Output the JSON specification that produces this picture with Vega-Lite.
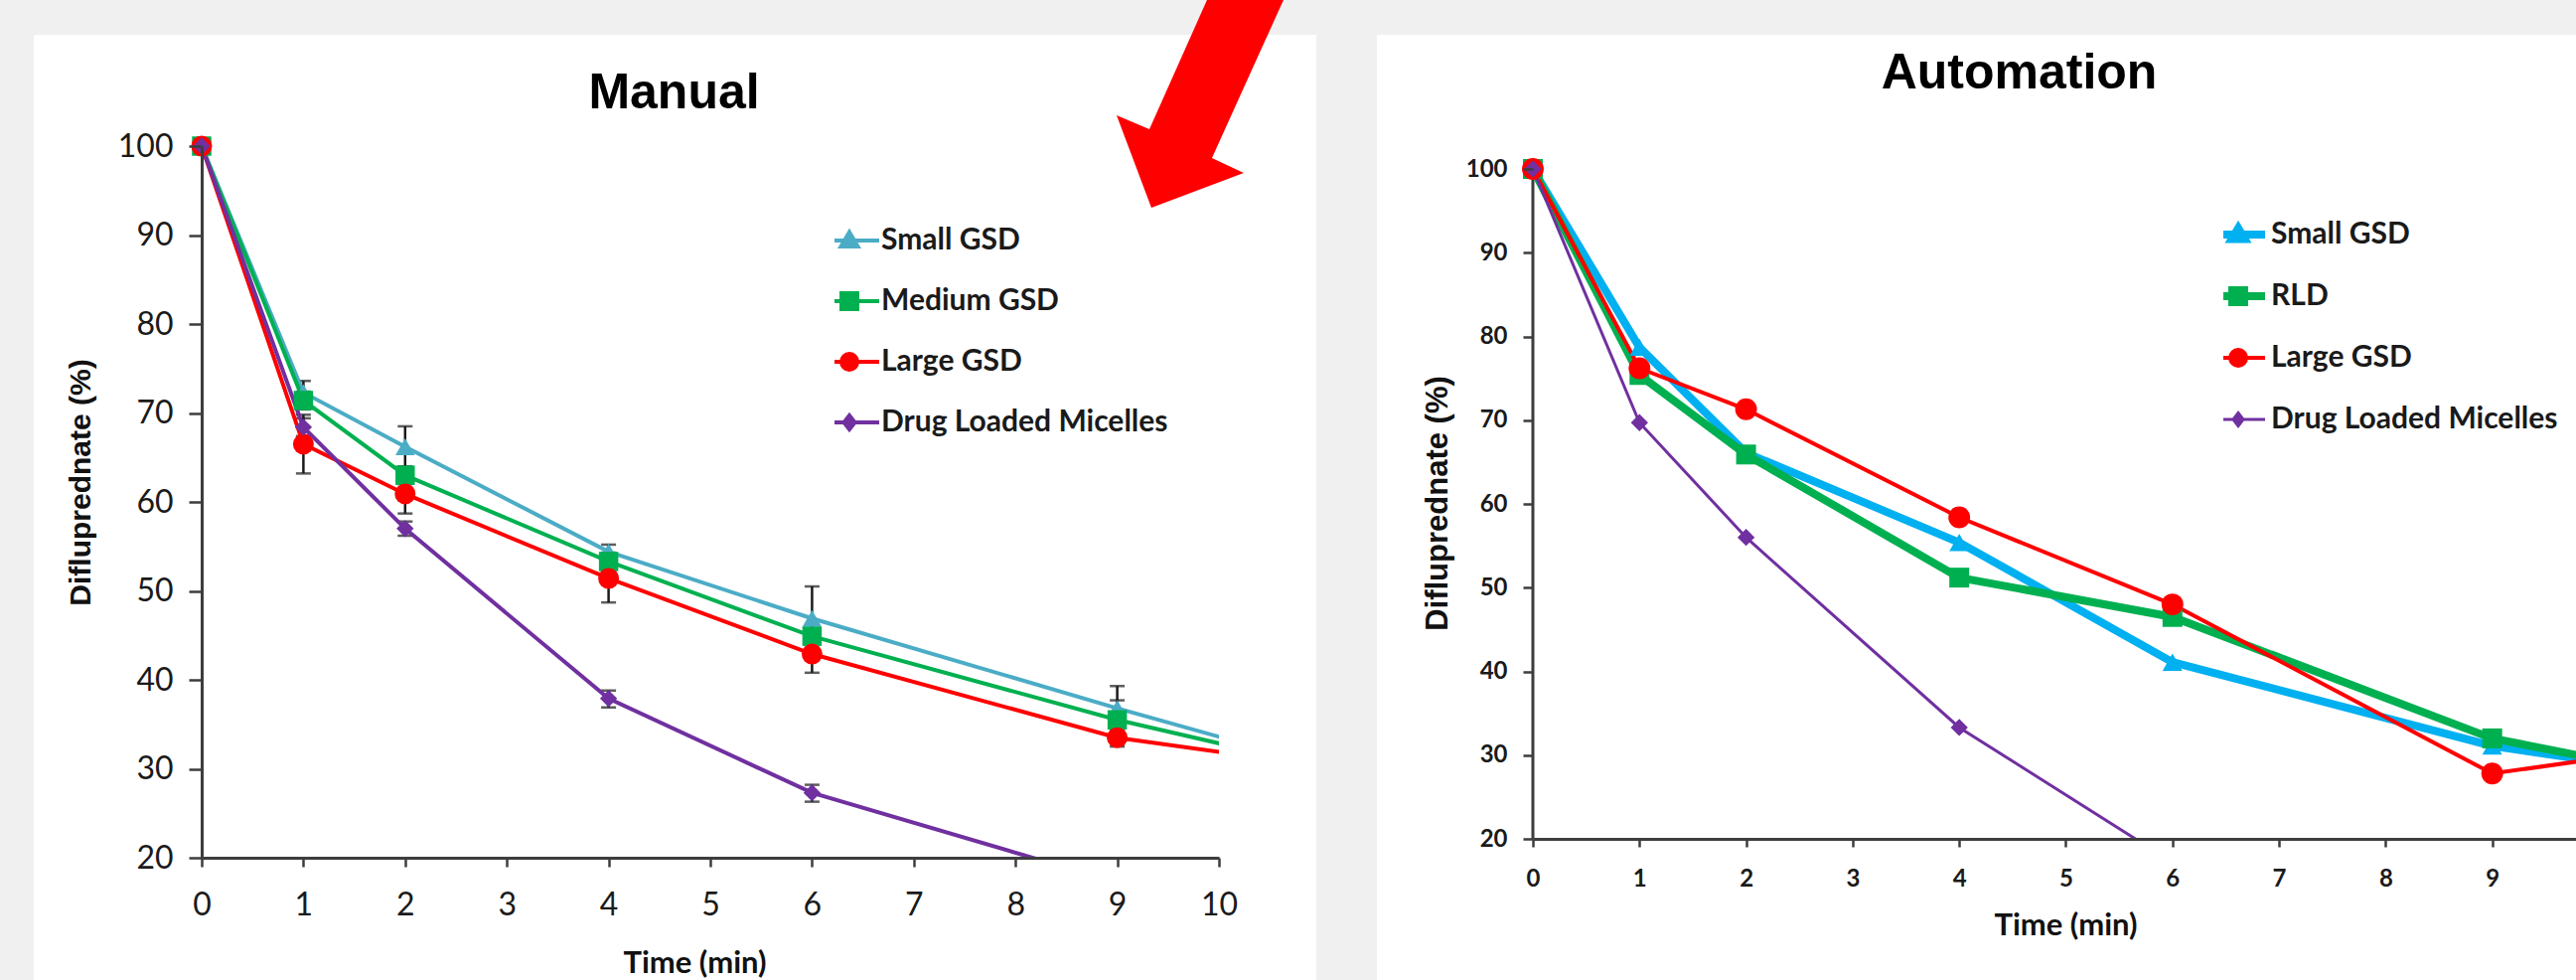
{
  "$schema": "https://vega.github.io/schema/vega-lite/v6.json",
  "background": "#f0f0f0",
  "padding": {"left": 34, "top": 0, "right": 0, "bottom": 0},
  "spacing": 61,
  "datasets": {
    "manual": [
      {"series": "Small GSD", "time": 0, "value": 100},
      {"series": "Small GSD", "time": 1, "value": 72.3, "lo": 71.0, "hi": 73.6},
      {"series": "Small GSD", "time": 2, "value": 66.2, "lo": 63.9, "hi": 68.5},
      {"series": "Small GSD", "time": 4, "value": 54.4, "lo": 53.6, "hi": 55.2},
      {"series": "Small GSD", "time": 6, "value": 46.9, "lo": 43.3, "hi": 50.5},
      {"series": "Small GSD", "time": 9, "value": 36.8, "lo": 34.3, "hi": 39.3},
      {"series": "Small GSD", "time": 12, "value": 27.2},
      {"series": "Medium GSD", "time": 0, "value": 100},
      {"series": "Medium GSD", "time": 1, "value": 71.4, "lo": 70.4, "hi": 72.4},
      {"series": "Medium GSD", "time": 2, "value": 63.0, "lo": 62.0, "hi": 64.0},
      {"series": "Medium GSD", "time": 4, "value": 53.3, "lo": 52.3, "hi": 54.3},
      {"series": "Medium GSD", "time": 6, "value": 44.9, "lo": 43.6, "hi": 46.2},
      {"series": "Medium GSD", "time": 9, "value": 35.5, "lo": 33.3, "hi": 37.7},
      {"series": "Medium GSD", "time": 12, "value": 27.6},
      {"series": "Large GSD", "time": 0, "value": 100},
      {"series": "Large GSD", "time": 1, "value": 66.5, "lo": 63.2, "hi": 69.8},
      {"series": "Large GSD", "time": 2, "value": 60.9, "lo": 58.7, "hi": 63.1},
      {"series": "Large GSD", "time": 4, "value": 51.4, "lo": 48.7, "hi": 54.1},
      {"series": "Large GSD", "time": 6, "value": 42.9, "lo": 40.8, "hi": 45.0},
      {"series": "Large GSD", "time": 9, "value": 33.5, "lo": 32.5, "hi": 34.5},
      {"series": "Large GSD", "time": 12, "value": 28.7},
      {"series": "Drug Loaded Micelles", "time": 0, "value": 100},
      {"series": "Drug Loaded Micelles", "time": 1, "value": 68.4, "lo": 67.4, "hi": 69.4},
      {"series": "Drug Loaded Micelles", "time": 2, "value": 57.0, "lo": 56.2, "hi": 57.8},
      {"series": "Drug Loaded Micelles", "time": 4, "value": 37.9, "lo": 36.9, "hi": 38.8},
      {"series": "Drug Loaded Micelles", "time": 6, "value": 27.3, "lo": 26.3, "hi": 28.2},
      {"series": "Drug Loaded Micelles", "time": 9, "value": 17.2}
    ],
    "auto": [
      {"series": "Small GSD", "time": 0, "value": 100},
      {"series": "Small GSD", "time": 1, "value": 78.7},
      {"series": "Small GSD", "time": 2, "value": 66.1},
      {"series": "Small GSD", "time": 4, "value": 55.4},
      {"series": "Small GSD", "time": 6, "value": 41.1},
      {"series": "Small GSD", "time": 9, "value": 31.1},
      {"series": "Small GSD", "time": 10, "value": 29.2},
      {"series": "RLD", "time": 0, "value": 100},
      {"series": "RLD", "time": 1, "value": 75.4},
      {"series": "RLD", "time": 2, "value": 65.9},
      {"series": "RLD", "time": 4, "value": 51.2},
      {"series": "RLD", "time": 6, "value": 46.5},
      {"series": "RLD", "time": 9, "value": 32.0},
      {"series": "RLD", "time": 10, "value": 29.5},
      {"series": "Large GSD", "time": 0, "value": 100},
      {"series": "Large GSD", "time": 1, "value": 76.2},
      {"series": "Large GSD", "time": 2, "value": 71.3},
      {"series": "Large GSD", "time": 4, "value": 58.4},
      {"series": "Large GSD", "time": 6, "value": 48.0},
      {"series": "Large GSD", "time": 9, "value": 27.8},
      {"series": "Large GSD", "time": 10, "value": 29.6},
      {"series": "Drug Loaded Micelles", "time": 0, "value": 100},
      {"series": "Drug Loaded Micelles", "time": 1, "value": 69.7},
      {"series": "Drug Loaded Micelles", "time": 2, "value": 56.0},
      {"series": "Drug Loaded Micelles", "time": 4, "value": 33.3},
      {"series": "Drug Loaded Micelles", "time": 6, "value": 17.2}
    ]
  },
  "hconcat": [
    {
      "width": 1024,
      "height": 716,
      "resolve": {"axis": {"x": "independent"}},
      "layer": [
        {
          "data": {"values": [{}]},
          "mark": {"type": "rect", "color": "#ffffff", "clip": false},
          "encoding": {
            "x": {"datum": -1.65, "type": "quantitative", "scale": {"domain": [0, 10], "nice": false, "zero": false},
              "axis": {"orient": "top", "zindex": 2, "title": "Manual", "labels": false, "ticks": false, "domain": false, "grid": false,
                "titleFont": "Liberation Sans", "titleFontSize": 50, "titleFontWeight": "bold", "titleColor": "#000000",
                "titlePadding": 39, "titleBaseline": "alphabetic", "titleX": 475}},
            "x2": {"datum": 10.957},
            "y": {"datum": 112.51, "type": "quantitative", "scale": {"domain": [20, 100], "nice": false, "zero": false}, "title": "Difluprednate (%)"},
            "y2": {"datum": 6.257}
          }
        },
        {
          "data": {"values": [{}]},
          "mark": {"type": "point", "shape": "M15,-105L92,-105L20,54L52,69L-41,104L-76,11L-43,25Z", "size": 4, "filled": true, "color": "#ff0000", "opacity": 1, "strokeWidth": 0, "clip": false},
          "encoding": {
            "x": {"datum": 9.736, "type": "quantitative", "axis": null},
            "y": {"datum": 104.69, "type": "quantitative", "title": "Difluprednate (%)"}
          }
        },
        {
          "data": {"name": "manual"},
          "transform": [{"filter": "isValid(datum.lo)"}],
          "mark": {"type": "errorbar", "color": "#1a1a1a", "ticks": {"size": 15, "thickness": 2.5, "color": "#1a1a1a"}, "rule": {"strokeWidth": 2.5, "color": "#1a1a1a"}},
          "encoding": {
            "x": {"field": "time", "type": "quantitative", "axis": null},
            "y": {"field": "lo", "type": "quantitative", "title": "Difluprednate (%)"},
            "y2": {"field": "hi"}
          }
        },
        {
          "data": {"name": "manual"},
          "mark": {"type": "line", "strokeWidth": 4, "clip": true},
          "encoding": {
            "x": {"field": "time", "type": "quantitative",
              "axis": {"orient": "bottom", "zindex": 2, "title": "Time (min)", "values": [0, 1, 2, 3, 4, 5, 6, 7, 8, 9, 10], "tickSize": 9, "labelPadding": 23,
                "labelFont": "Lato", "labelFontSize": 32, "labelColor": "#1a1a1a", "labelFlush": false, "labelOverlap": false,
                "titleFont": "Lato", "titleFontSize": 31, "titleFontWeight": "bold", "titleColor": "#111111", "titlePadding": 28, "titleBaseline": "top", "titleX": 496,
                "domainColor": "#3d3d3d", "domainWidth": 3, "tickColor": "#3d3d3d", "tickWidth": 2.5, "grid": false}},
            "y": {"field": "value", "type": "quantitative", "title": "Difluprednate (%)",
              "axis": {"zindex": 2, "values": [20, 30, 40, 50, 60, 70, 80, 90, 100], "tickSize": 13, "labelPadding": 16,
                "labelFont": "Lato", "labelFontSize": 32, "labelColor": "#1a1a1a", "labelFlush": false, "labelOverlap": false,
                "titleFont": "Liberation Sans", "titleFontSize": 30, "titleFontWeight": "bold", "titleColor": "#111111", "titlePadding": 22, "titleY": 338,
                "domainColor": "#3d3d3d", "domainWidth": 3, "tickColor": "#3d3d3d", "tickWidth": 2.5, "grid": false}},
            "color": {"field": "series", "type": "nominal",
              "scale": {"domain": ["Small GSD", "Medium GSD", "Large GSD", "Drug Loaded Micelles"], "range": ["#4bacc6", "#00b050", "#ff0000", "#7030a0"]},
              "legend": {"orient": "none", "legendX": 637, "legendY": 77, "title": null, "padding": 0,
                "labelFont": "Lato", "labelFontSize": 30, "labelFontWeight": "bold", "labelColor": "#1a1a1a", "labelOffset": 17, "labelLimit": 800,
                "rowPadding": 25, "clipHeight": 36, "symbolSize": 400,
                "encode": {"symbols": {"update": {
                  "shape": {"signal": "datum.value === 'Small GSD' ? 'M-3,0H3M0,-0.85L0.85,0.6L-0.85,0.6Z' : datum.value === 'Medium GSD' ? 'M-3,0H3M-0.8,-0.8H0.8V0.8H-0.8Z' : datum.value === 'Large GSD' ? 'M-3,0H3M-0.8,0A0.8,0.8 0 1,0 0.8,0A0.8,0.8 0 1,0 -0.8,0Z' : 'M-3,0H3M0,-0.7L0.55,0L0,0.7L-0.55,0Z'"},
                  "fill": {"signal": "datum.value === 'Small GSD' ? '#4bacc6' : datum.value === 'Medium GSD' ? '#00b050' : datum.value === 'Large GSD' ? '#ff0000' : '#7030a0'"},
                  "stroke": {"signal": "datum.value === 'Small GSD' ? '#4bacc6' : datum.value === 'Medium GSD' ? '#00b050' : datum.value === 'Large GSD' ? '#ff0000' : '#7030a0'"},
                  "strokeWidth": {"value": 4},
                  "size": {"value": 400},
                  "opacity": {"value": 1}
                }}}
              }
            }
          }
        },
        {
          "data": {"name": "manual"},
          "transform": [{"filter": "datum.series === 'Small GSD' && datum.time <= 10"}],
          "mark": {"type": "point", "shape": "triangle-up", "size": 380, "filled": true, "opacity": 1, "color": "#4bacc6", "strokeWidth": 0},
          "encoding": {"x": {"field": "time", "type": "quantitative", "axis": null}, "y": {"field": "value", "type": "quantitative", "title": "Difluprednate (%)"}}
        },
        {
          "data": {"name": "manual"},
          "transform": [{"filter": "datum.series === 'Medium GSD' && datum.time <= 10"}],
          "mark": {"type": "point", "shape": "square", "size": 380, "filled": true, "opacity": 1, "color": "#00b050", "strokeWidth": 0},
          "encoding": {"x": {"field": "time", "type": "quantitative", "axis": null}, "y": {"field": "value", "type": "quantitative", "title": "Difluprednate (%)"}}
        },
        {
          "data": {"name": "manual"},
          "transform": [{"filter": "datum.series === 'Large GSD' && datum.time <= 10"}],
          "mark": {"type": "point", "shape": "circle", "size": 440, "filled": true, "opacity": 1, "color": "#ff0000", "strokeWidth": 0},
          "encoding": {"x": {"field": "time", "type": "quantitative", "axis": null}, "y": {"field": "value", "type": "quantitative", "title": "Difluprednate (%)"}}
        },
        {
          "data": {"name": "manual"},
          "transform": [{"filter": "datum.series === 'Drug Loaded Micelles' && datum.value >= 20"}],
          "mark": {"type": "point", "shape": "diamond", "size": 300, "filled": true, "opacity": 1, "color": "#7030a0", "strokeWidth": 0},
          "encoding": {"x": {"field": "time", "type": "quantitative", "axis": null}, "y": {"field": "value", "type": "quantitative", "title": "Difluprednate (%)"}}
        }
      ]
    },
    {
      "width": 1050,
      "height": 697,
      "resolve": {"axis": {"x": "independent"}},
      "layer": [
        {
          "data": {"values": [{}]},
          "mark": {"type": "rect", "color": "#ffffff", "clip": false},
          "encoding": {
            "x": {"datum": -1.463, "type": "quantitative", "scale": {"domain": [0, 9.786], "nice": false, "zero": false},
              "axis": {"orient": "top", "zindex": 2, "title": "Automation", "labels": false, "ticks": false, "domain": false, "grid": false,
                "titleFont": "Liberation Sans", "titleFontSize": 50, "titleFontWeight": "bold", "titleColor": "#000000",
                "titlePadding": 59, "titleBaseline": "alphabetic", "titleX": 489}},
            "x2": {"datum": 9.786},
            "y": {"datum": 116.03, "type": "quantitative", "scale": {"domain": [20, 102.73], "nice": false, "zero": false}, "title": "Difluprednate (%)"},
            "y2": {"datum": 3.145}
          }
        },
        {
          "data": {"values": [{}]},
          "mark": {"type": "rule", "color": "#3d3d3d", "strokeWidth": 3},
          "encoding": {
            "x": {"datum": 0, "type": "quantitative", "axis": null},
            "y": {"datum": 20, "type": "quantitative", "title": "Difluprednate (%)"},
            "y2": {"datum": 100}
          }
        },
        {
          "data": {"name": "auto"},
          "transform": [{"filter": "datum.series === 'Small GSD' || datum.series === 'RLD'"}],
          "mark": {"type": "line", "clip": true, "strokeWidth": 8},
          "encoding": {
            "x": {"field": "time", "type": "quantitative",
              "axis": {"orient": "bottom", "zindex": 2, "title": "Time (min)", "values": [0, 1, 2, 3, 4, 5, 6, 7, 8, 9], "tickSize": 8, "labelPadding": 20,
                "labelFont": "Lato", "labelFontSize": 24, "labelFontWeight": "bold", "labelColor": "#1a1a1a", "labelFlush": false, "labelOverlap": false,
                "titleFont": "Lato", "titleFontSize": 31, "titleFontWeight": "bold", "titleColor": "#111111", "titlePadding": 20, "titleBaseline": "top", "titleX": 536,
                "domainColor": "#3d3d3d", "domainWidth": 3, "tickColor": "#3d3d3d", "tickWidth": 2.5, "grid": false}},
            "y": {"field": "value", "type": "quantitative", "title": "Difluprednate (%)",
              "axis": {"zindex": 2, "values": [20, 30, 40, 50, 60, 70, 80, 90, 100], "domain": false, "tickSize": 10, "labelPadding": 16,
                "labelFont": "Lato", "labelFontSize": 24, "labelFontWeight": "bold", "labelColor": "#1a1a1a", "labelFlush": false, "labelOverlap": false,
                "titleFont": "Liberation Sans", "titleFontSize": 31, "titleFontWeight": "bold", "titleColor": "#111111", "titlePadding": 12, "titleY": 359,
                "tickColor": "#3d3d3d", "tickWidth": 2.5, "grid": false}},
            "color": {"field": "series", "type": "nominal",
              "scale": {"domain": ["Small GSD", "RLD", "Large GSD", "Drug Loaded Micelles"], "range": ["#00b0f0", "#00b050", "#ff0000", "#7030a0"]},
              "legend": {"orient": "none", "legendX": 695, "legendY": 71, "title": null, "padding": 0,
                "labelFont": "Lato", "labelFontSize": 30, "labelFontWeight": "bold", "labelColor": "#1a1a1a", "labelOffset": 18, "labelLimit": 800,
                "rowPadding": 26, "clipHeight": 36, "symbolSize": 400,
                "encode": {"symbols": {"update": {
                  "shape": {"signal": "datum.value === 'Small GSD' ? 'M-2.7,0H2.7M0,-0.65L0.65,0.45L-0.65,0.45Z' : datum.value === 'RLD' ? 'M-2.7,0H2.7M-0.6,-0.6H0.6V0.6H-0.6Z' : datum.value === 'Large GSD' ? 'M-2.7,0H2.7M-0.8,0A0.8,0.8 0 1,0 0.8,0A0.8,0.8 0 1,0 -0.8,0Z' : 'M-2.7,0H2.7M0,-0.65L0.5,0L0,0.65L-0.5,0Z'"},
                  "fill": {"signal": "datum.value === 'Small GSD' ? '#00b0f0' : datum.value === 'RLD' ? '#00b050' : datum.value === 'Large GSD' ? '#ff0000' : '#7030a0'"},
                  "stroke": {"signal": "datum.value === 'Small GSD' ? '#00b0f0' : datum.value === 'RLD' ? '#00b050' : datum.value === 'Large GSD' ? '#ff0000' : '#7030a0'"},
                  "strokeWidth": {"signal": "datum.value === 'Small GSD' || datum.value === 'RLD' ? 8 : datum.value === 'Large GSD' ? 4 : 3"},
                  "size": {"value": 400},
                  "opacity": {"value": 1}
                }}}
              }
            }
          }
        },
        {
          "data": {"name": "auto"},
          "transform": [{"filter": "datum.series === 'Large GSD'"}],
          "mark": {"type": "line", "clip": true, "strokeWidth": 4},
          "encoding": {
            "x": {"field": "time", "type": "quantitative", "axis": null},
            "y": {"field": "value", "type": "quantitative", "title": "Difluprednate (%)"},
            "color": {"field": "series", "type": "nominal"}
          }
        },
        {
          "data": {"name": "auto"},
          "transform": [{"filter": "datum.series === 'Drug Loaded Micelles'"}],
          "mark": {"type": "line", "clip": true, "strokeWidth": 3},
          "encoding": {
            "x": {"field": "time", "type": "quantitative", "axis": null},
            "y": {"field": "value", "type": "quantitative", "title": "Difluprednate (%)"},
            "color": {"field": "series", "type": "nominal"}
          }
        },
        {
          "data": {"name": "auto"},
          "transform": [{"filter": "datum.series === 'Small GSD' && datum.time <= 9.5"}],
          "mark": {"type": "point", "shape": "triangle-up", "size": 400, "filled": true, "opacity": 1, "color": "#00b0f0", "strokeWidth": 0},
          "encoding": {"x": {"field": "time", "type": "quantitative", "axis": null}, "y": {"field": "value", "type": "quantitative", "title": "Difluprednate (%)"}}
        },
        {
          "data": {"name": "auto"},
          "transform": [{"filter": "datum.series === 'RLD' && datum.time <= 9.5"}],
          "mark": {"type": "point", "shape": "square", "size": 400, "filled": true, "opacity": 1, "color": "#00b050", "strokeWidth": 0},
          "encoding": {"x": {"field": "time", "type": "quantitative", "axis": null}, "y": {"field": "value", "type": "quantitative", "title": "Difluprednate (%)"}}
        },
        {
          "data": {"name": "auto"},
          "transform": [{"filter": "datum.series === 'Large GSD' && datum.time <= 9.5"}],
          "mark": {"type": "point", "shape": "circle", "size": 480, "filled": true, "opacity": 1, "color": "#ff0000", "strokeWidth": 0},
          "encoding": {"x": {"field": "time", "type": "quantitative", "axis": null}, "y": {"field": "value", "type": "quantitative", "title": "Difluprednate (%)"}}
        },
        {
          "data": {"name": "auto"},
          "transform": [{"filter": "datum.series === 'Drug Loaded Micelles' && datum.value >= 20"}],
          "mark": {"type": "point", "shape": "diamond", "size": 300, "filled": true, "opacity": 1, "color": "#7030a0", "strokeWidth": 0},
          "encoding": {"x": {"field": "time", "type": "quantitative", "axis": null}, "y": {"field": "value", "type": "quantitative", "title": "Difluprednate (%)"}}
        }
      ]
    }
  ],
  "resolve": {
    "scale": {"color": "independent"},
    "legend": {"color": "independent"}
  },
  "config": {
    "view": {"stroke": null},
    "axis": {"grid": false, "labelFlush": false}
  }
}
